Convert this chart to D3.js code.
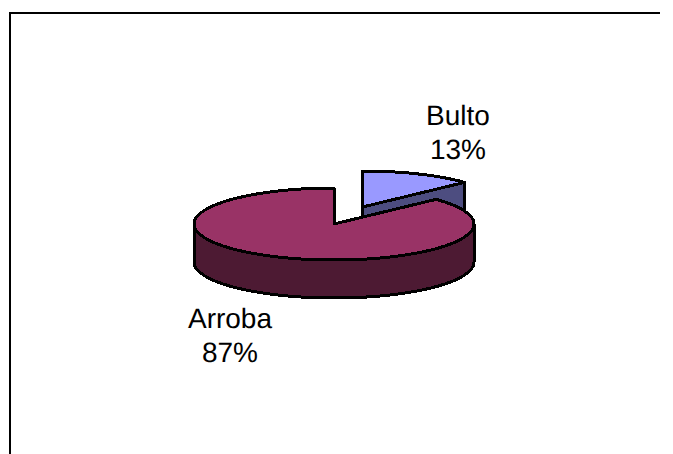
<!DOCTYPE html>
<html>
<head>
<meta charset="utf-8">
<script src="https://cdn.jsdelivr.net/npm/d3@7"></script>
<style>
html,body{margin:0;padding:0;background:#fff;}
svg{display:block;}
text{font-family:"Liberation Sans",Arial,sans-serif;font-size:28px;fill:#000;text-anchor:middle;text-rendering:geometricPrecision;}
</style>
</head>
<body>
<svg id="chart" width="673" height="454"></svg>
<script>
// Share of sales by unit of measure
const categories = ["Bulto", "Arroba"];
const shares = [13, 87];
const topColors = ["#9999ff", "#993366"];
const sideColors = ["#4d4d80", "#4d1a33"];

const svg = d3.select("#chart");

// Chart frame: open on the right and bottom edges of the page
svg.append("path")
  .attr("d", "M10,454V13H660")
  .attr("fill", "none").attr("stroke", "#000").attr("stroke-width", 2);

// Pie geometry, tilted into an ellipse with an extruded wall
const cx = 334, cy = 224, rx = 140, ry = 36, depth = 38;
const burst = [{dx: 28.5, dy: -17}, {dx: 0, dy: 0}];

const arcs = d3.pie().value(d => d).sort(null)(shares);

const px = a => Math.sin(a) * rx;
const py = a => -Math.cos(a) * ry;

function rimPoints(a0, a1) {
  const n = Math.max(2, Math.ceil((a1 - a0) / 0.02));
  return d3.range(n + 1).map(i => a0 + (a1 - a0) * i / n).map(a => [px(a), py(a)]);
}
const line = d3.line();

function drawSlice(arc, i) {
  const g = svg.append("g")
    .attr("transform", `translate(${cx + burst[i].dx},${cy + burst[i].dy})`)
    .attr("stroke", "#000").attr("stroke-width", 3)
    .attr("stroke-linejoin", "round")
    .style("shape-rendering", "crispEdges");

  // Cut face of the back slice, visible through the gap
  if (arc.endAngle < Math.PI / 2) {
    const e = [px(arc.endAngle), py(arc.endAngle)];
    g.append("path")
      .attr("d", line([[0, 0], e, [e[0], e[1] + depth], [0, depth]]) + "Z")
      .attr("fill", sideColors[i]);
  }

  // Outer wall: the front half of the rim, dropped by the depth
  const a0 = Math.max(arc.startAngle, Math.PI / 2);
  const a1 = Math.min(arc.endAngle, Math.PI * 1.5);
  if (a1 > a0) {
    const upper = rimPoints(a0, a1);
    const lower = upper.map(p => [p[0], p[1] + depth]).reverse();
    g.append("path")
      .attr("d", line(upper.concat(lower)) + "Z")
      .attr("fill", sideColors[i]);
  }

  // Top face
  g.append("path")
    .attr("d", line([[0, 0]].concat(rimPoints(arc.startAngle, arc.endAngle))) + "Z")
    .attr("fill", topColors[i]);
}

arcs.forEach(drawSlice);

// Two-line data labels
const labelPos = [{x: 458, y: 125}, {x: 230, y: 328}];
categories.forEach((c, i) => {
  const t = svg.append("text").attr("x", labelPos[i].x).attr("y", labelPos[i].y);
  t.append("tspan").attr("x", labelPos[i].x).text(c);
  t.append("tspan").attr("x", labelPos[i].x).attr("dy", 34).text(shares[i] + "%");
});
</script>
</body>
</html>
